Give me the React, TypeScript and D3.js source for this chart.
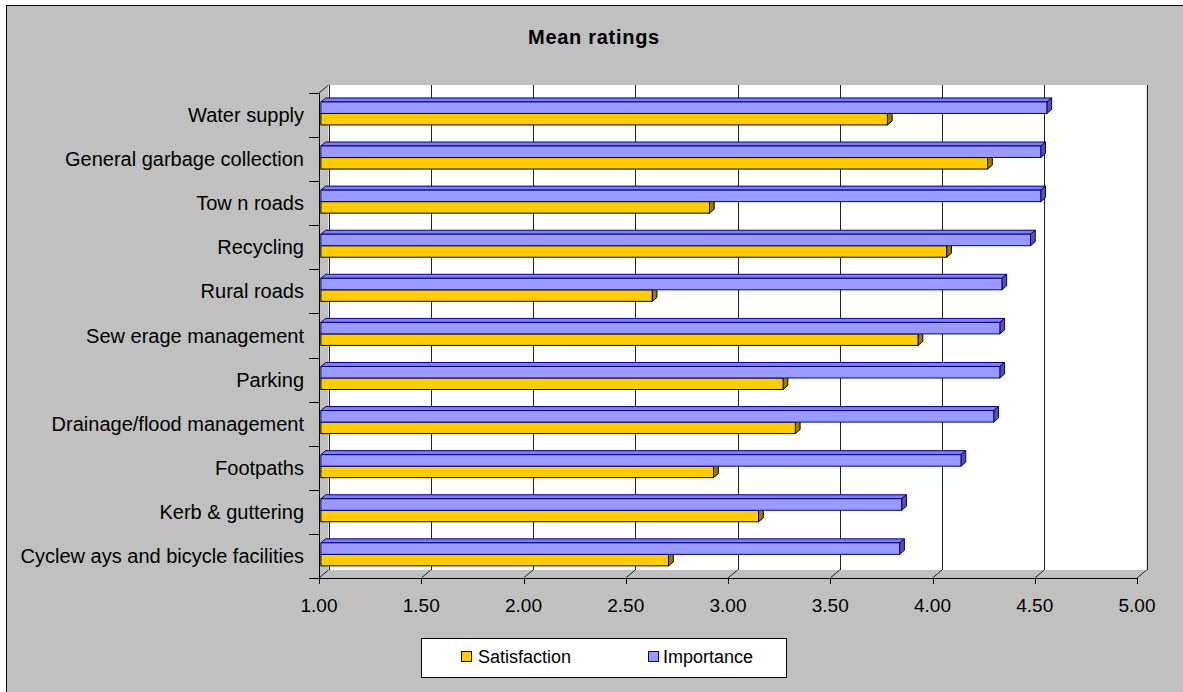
import React from "react";
import * as d3 from "d3";

const categories = [
  "Water supply",
  "General garbage collection",
  "Tow n roads",
  "Recycling",
  "Rural roads",
  "Sew erage management",
  "Parking",
  "Drainage/flood management",
  "Footpaths",
  "Kerb & guttering",
  "Cyclew ays and bicycle facilities",
];
const importance = [4.55, 4.52, 4.52, 4.47, 4.33, 4.32, 4.32, 4.29, 4.13, 3.84, 3.83];
const satisfaction = [3.77, 4.26, 2.9, 4.06, 2.62, 3.92, 3.26, 3.32, 2.92, 3.14, 2.7];
const seriesNames = ["Importance", "Satisfaction"];
const xTicks = [1, 1.5, 2, 2.5, 3, 3.5, 4, 4.5, 5];
const title = "Mean ratings";

const FONT = "Arial, 'Liberation Sans', sans-serif";
const W = 1183;
const H = 692;
const DX = 9.5;
const DY = -8;
const F0 = 0.2;
const F1 = 0.7;

const styles: Record<string, { front: string; top: string; end: string; stroke: string }> = {
  Importance: { front: "#9999FF", top: "#8080E8", end: "#55559E", stroke: "#000080" },
  Satisfaction: { front: "#FFCC00", top: "#D9AD00", end: "#9C7C00", stroke: "#000000" },
};

export default function App() {
  const x = d3.scaleLinear().domain([1, 5]).range([319, 1137]);
  const yTop = 93;
  const yBot = 578;
  const y0 = d3
    .scaleBand<string>()
    .domain(categories)
    .range([yTop, yBot])
    .paddingInner(0.478)
    .paddingOuter(0.239);
  const y1 = d3.scaleBand<string>().domain(seriesNames).range([0, y0.bandwidth()]);
  const step = (yBot - yTop) / categories.length;

  const ddx = (F1 - F0) * DX;
  const ddy = (F1 - F0) * DY;

  const bar = (cat: string, series: string, v: number, key: string) => {
    const st = styles[series];
    const x0 = x(1) + F0 * DX;
    const x1 = x(v) + F0 * DX;
    const yt = (y0(cat) as number) + (y1(series) as number) + F0 * DY;
    const yb = yt + y1.bandwidth();
    const topPts = [
      [x0, yt],
      [x1, yt],
      [x1 + ddx, yt + ddy],
      [x0 + ddx, yt + ddy],
    ];
    const endPts = [
      [x1, yt],
      [x1 + ddx, yt + ddy],
      [x1 + ddx, yb + ddy],
      [x1, yb],
    ];
    return (
      <g key={key}>
        <polygon points={topPts.map((p) => p.join(",")).join(" ")} fill={st.top} stroke={st.stroke} strokeWidth={1} />
        <polygon points={endPts.map((p) => p.join(",")).join(" ")} fill={st.end} stroke={st.stroke} strokeWidth={1} />
        <rect x={x0} y={yt} width={x1 - x0} height={yb - yt} fill={st.front} stroke={st.stroke} strokeWidth={1} />
      </g>
    );
  };

  const backTop = yTop + DY;
  const backBot = yBot + DY;

  return (
    <svg
      width={W}
      height={H}
      style={{ position: "absolute", left: 0, top: 0, fontFamily: FONT }}
    >
      <rect x={0} y={0} width={W} height={H} fill="#FFFFFF" />
      <rect x={6.5} y={5.5} width={W + 10} height={H + 10} fill="#C0C0C0" stroke="#000" strokeWidth={1} />

      <text x={594} y={44} textAnchor="middle" fontSize={20} fontWeight="bold" letterSpacing={0.7} fill="#000">
        {title}
      </text>

      {/* back wall */}
      <rect x={x(1) + DX} y={backTop} width={x(5) - x(1)} height={backBot - backTop} fill="#FFFFFF" />
      {/* gridlines */}
      {xTicks.map((t) => (
        <line
          key={"g" + t}
          x1={Math.round(x(t) + DX) + 0.5}
          x2={Math.round(x(t) + DX) + 0.5}
          y1={backTop}
          y2={backBot}
          stroke="#222"
          strokeWidth={1}
        />
      ))}
      {/* floor diagonals */}
      {xTicks.map((t) => (
        <line
          key={"fd" + t}
          x1={x(t)}
          y1={yBot}
          x2={x(t) + DX}
          y2={backBot}
          stroke="#222"
          strokeWidth={1}
        />
      ))}
      {/* left wall top diagonal */}
      <line x1={x(1)} y1={yTop} x2={x(1) + DX} y2={backTop} stroke="#222" strokeWidth={1} />

      {/* bars */}
      {categories.map((c, i) => (
        <g key={c}>
          {bar(c, "Satisfaction", satisfaction[i], "s" + i)}
          {bar(c, "Importance", importance[i], "i" + i)}
        </g>
      ))}

      {/* category axis */}
      <line x1={x(1) + 0.5} x2={x(1) + 0.5} y1={yTop} y2={yBot} stroke="#000" strokeWidth={1} />
      {d3.range(categories.length + 1).map((k) => (
        <line
          key={"ct" + k}
          x1={309}
          x2={x(1)}
          y1={Math.round(yTop + k * step) + 0.5}
          y2={Math.round(yTop + k * step) + 0.5}
          stroke="#000"
          strokeWidth={1}
        />
      ))}
      {categories.map((c, i) => (
        <text
          key={"cl" + i}
          x={304}
          y={yTop + (i + 0.5) * step + 7}
          textAnchor="end"
          fontSize={20}
          fill="#000"
        >
          {c}
        </text>
      ))}

      {/* value axis */}
      <line x1={x(1)} x2={x(5)} y1={yBot + 0.5} y2={yBot + 0.5} stroke="#000" strokeWidth={1} />
      {xTicks.map((t) => (
        <line
          key={"vt" + t}
          x1={Math.round(x(t)) + 0.5}
          x2={Math.round(x(t)) + 0.5}
          y1={yBot}
          y2={yBot + 6}
          stroke="#000"
          strokeWidth={1}
        />
      ))}
      {xTicks.map((t) => (
        <text key={"vl" + t} x={x(t)} y={612} textAnchor="middle" fontSize={19} fill="#000">
          {d3.format(".2f")(t)}
        </text>
      ))}

      {/* legend */}
      <rect x={421.5} y={638.5} width={365} height={39} fill="#FFFFFF" stroke="#000" strokeWidth={1} />
      <rect x={461.5} y={651.5} width={10} height={10} fill={styles.Satisfaction.front} stroke="#000" strokeWidth={1} />
      <text x={478} y={663} fontSize={18} fill="#000">
        Satisfaction
      </text>
      <rect x={648.5} y={651.5} width={10} height={10} fill={styles.Importance.front} stroke="#000080" strokeWidth={1} />
      <text x={663} y={663} fontSize={18} fill="#000">
        Importance
      </text>
    </svg>
  );
}
